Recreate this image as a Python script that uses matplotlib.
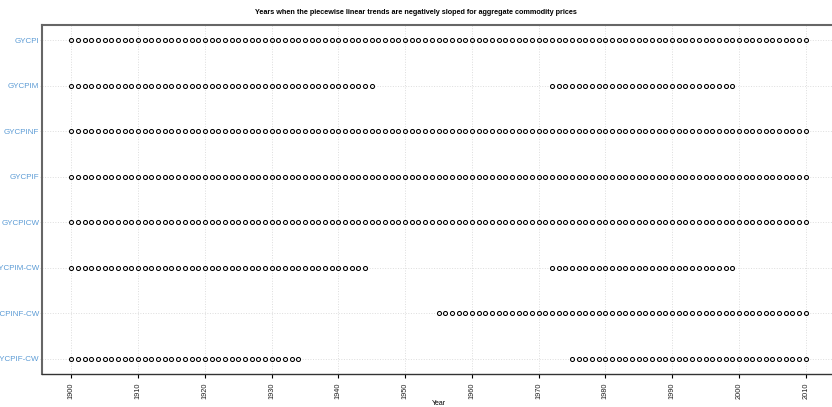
import matplotlib
matplotlib.use("Agg")
import matplotlib.pyplot as plt
import numpy as np

plt.rcParams["font.family"] = ["Liberation Sans", "DejaVu Sans"]

series = ["GYCPI", "GYCPIM", "GYCPINF", "GYCPIF", "GYCPICW",
          "GYCPIM-CW", "GYCPINF-CW", "GYCPIF-CW"]
# year ranges (inclusive) where the trend is negatively sloped
segments = {
    "GYCPI": [(1900, 2010)],
    "GYCPIM": [(1900, 1945), (1972, 1999)],
    "GYCPINF": [(1900, 2010)],
    "GYCPIF": [(1900, 2010)],
    "GYCPICW": [(1900, 2010)],
    "GYCPIM-CW": [(1900, 1944), (1972, 1999)],
    "GYCPINF-CW": [(1955, 2010)],
    "GYCPIF-CW": [(1900, 1934), (1975, 2010)],
}
xticks = list(range(1900, 2011, 10))

fig = plt.figure(figsize=(8.32, 4.07), dpi=100)
ax = fig.add_axes([42/832, (407-374)/407, (835-42)/832, (374-25)/407])

n = len(series)
for i, name in enumerate(series):
    y = n - 1 - i
    yrs = []
    for a, b in segments[name]:
        yrs.extend(range(a, b + 1))
    ax.plot(yrs, [y] * len(yrs), linestyle="none", marker="o", markersize=2.9,
            markerfacecolor="none", markeredgecolor="black", markeredgewidth=0.75,
            zorder=3)

ax.set_xlim(1895.6, 2014.4)
ax.set_ylim(-0.34, n - 1 + 0.34)
ax.set_yticks(range(n))
ax.set_yticklabels(series[::-1], fontsize=5.8, color="#5b9bd5")
ax.set_xticks(xticks)
ax.set_xticklabels([str(t) for t in xticks], rotation=90, fontsize=5.3, color="#222222")
ax.tick_params(axis="x", length=3, width=0.8, pad=3)
ax.tick_params(axis="y", length=1.5, width=0.6, color="#cccccc", pad=0.3)
ax.grid(True, color="#dddddd", linestyle=":", linewidth=0.7, zorder=0)
for s in ax.spines.values():
    s.set_color("#333333")
    s.set_linewidth(1.0)
ax.spines["top"].set_color("#666666")
ax.spines["top"].set_linewidth(1.5)
ax.spines["left"].set_color("#666666")
ax.spines["left"].set_linewidth(1.5)

ax.set_xlabel("Year", fontsize=5, labelpad=1)
fig.text(0.5, 1 - 12/407, "Years when the piecewise linear trends are negatively sloped for aggregate commodity prices",
         ha="center", va="center", fontsize=5.2, fontweight="bold")

fig.savefig("out.png", dpi=100)
